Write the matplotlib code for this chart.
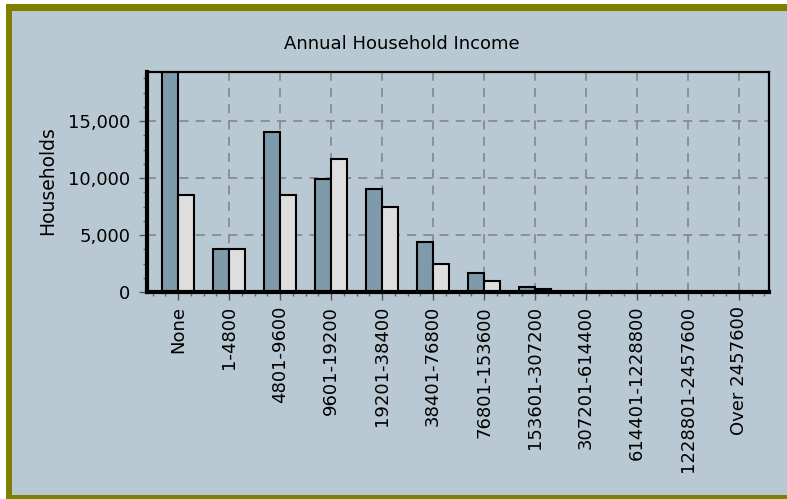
import matplotlib
matplotlib.use("Agg")
import matplotlib.pyplot as plt
from matplotlib.patches import Rectangle
from matplotlib.ticker import FuncFormatter, MultipleLocator, FixedLocator
import numpy as np

categories = ["None", "1-4800", "4801-9600", "9601-19200", "19201-38400",
              "38401-76800", "76801-153600", "153601-307200", "307201-614400",
              "614401-1228800", "1228801-2457600", "Over 2457600"]
series_dark = [20500, 3800, 14000, 9900, 9000, 4400, 1700, 450, 40, 15, 8, 5]
series_light = [8500, 3800, 8500, 11700, 7500, 2500, 950, 250, 20, 8, 4, 3]
title = "Annual Household Income"
ylabel = "Households"

BG = "#B9C9D3"
DARK = "#7F9AAB"
LIGHT = "#DEDEDE"
OLIVE = "#808000"

plt.rcParams['font.family'] = ['DejaVu Sans']

W, H = 787, 499
fig = plt.figure(figsize=(W / 100, H / 100), dpi=100, facecolor="white")

# background panel + olive frame
fig.patches.append(Rectangle((6 / W, 0), 1 - 6 / W, 1 - 4 / H, transform=fig.transFigure,
                             facecolor=BG, edgecolor="none", zorder=-10))
fig.patches.append(Rectangle((6 / W, 0), 6 / W, 1 - 4 / H, transform=fig.transFigure,
                             facecolor=OLIVE, edgecolor="none", zorder=-9))
fig.patches.append(Rectangle((6 / W, 1 - 11 / H), 1 - 6 / W, 7 / H, transform=fig.transFigure,
                             facecolor=OLIVE, edgecolor="none", zorder=-9))
fig.patches.append(Rectangle((6 / W, 0), 1 - 6 / W, 4 / H, transform=fig.transFigure,
                             facecolor=OLIVE, edgecolor="none", zorder=-9))

left, right, top, bottom = 147, 769, 72, 292
ax = fig.add_axes([left / W, 1 - bottom / H, (right - left) / W, (bottom - top) / H])
ax.set_facecolor(BG)

x = np.arange(len(categories))
bw = 0.31
ax.bar(x - bw / 2, series_dark, width=bw, color=DARK, edgecolor="black", linewidth=1.5, zorder=3)
ax.bar(x + bw / 2, series_light, width=bw, color=LIGHT, edgecolor="black", linewidth=1.5, zorder=3)

ax.set_xlim(-0.61, 11.59)
ax.set_ylim(0, 19300)

ax.set_xticks(x)
ax.set_xticklabels(categories, rotation=90, fontsize=13)
ax.xaxis.set_minor_locator(MultipleLocator(0.25))
ax.yaxis.set_major_locator(FixedLocator([0, 5000, 10000, 15000]))
ax.yaxis.set_minor_locator(MultipleLocator(1250))
ax.yaxis.set_major_formatter(FuncFormatter(lambda v, p: f"{int(v):,}"))
ax.tick_params(axis="y", labelsize=13, length=6, width=1, color="#555555", pad=6)
ax.tick_params(axis="x", length=6, width=1, color="#555555", pad=4)
ax.tick_params(which="minor", length=3, width=1, color="#666666")

ax.grid(True, which="major", color="#8A8A8A", linestyle=(0, (5, 4)), linewidth=1.3)
ax.set_axisbelow(True)

for s in ["left", "bottom"]:
    ax.spines[s].set_linewidth(3)
for s in ["top", "right"]:
    ax.spines[s].set_linewidth(1.6)
for s in ax.spines.values():
    s.set_color("black")
    s.set_zorder(5)

fig.text(402 / W, 1 - 44 / H, title, ha="center", va="center", fontsize=13)
fig.text(48 / W, 1 - 181 / H, ylabel, ha="center", va="center", rotation=90, fontsize=13.5)

fig.savefig("out.png", dpi=100, facecolor=fig.get_facecolor())
